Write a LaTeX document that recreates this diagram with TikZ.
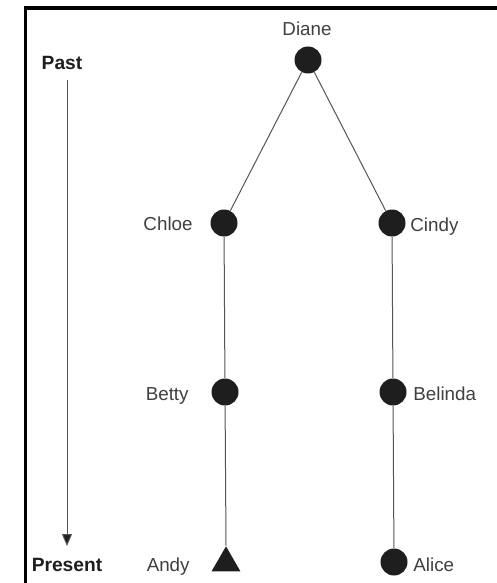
\documentclass[tikz,border=0pt]{standalone}
\usepackage{fontspec}
\setmainfont{Liberation Sans}
\usetikzlibrary{arrows.meta,shapes.geometric}
\definecolor{ink}{HTML}{1E1E1E}
\definecolor{edge}{HTML}{555555}
\begin{document}
\begin{tikzpicture}[x=0.5pt,y=-0.5pt,
  person/.style={circle,fill=ink,inner sep=0pt,minimum size=13.5pt},
  male/.style={isosceles triangle,isosceles triangle apex angle=60,shape border rotate=90,fill=ink,inner sep=0pt,minimum height=12.5pt,minimum width=14pt},
  lbl/.style={font=\fontsize{9.4}{11}\selectfont,text=ink!85,inner sep=0pt},
  era/.style={font=\fontsize{9.6}{11}\selectfont\bfseries,text=ink,inner sep=0pt},
  link/.style={draw=edge,line width=0.5pt}]
\useasboundingbox (0,0) rectangle (497,583);
\fill[white] (0,0) rectangle (497,583);
% frame
\draw[line width=1.8pt,black] (25.5,583) -- (25.5,8) -- (497,8);
% people
\node[person] (diane) at (308,60) {};
\node[person] (chloe) at (224,223) {};
\node[person] (cindy) at (392,223) {};
\node[person] (betty) at (225,392) {};
\node[person] (belinda) at (393,392) {};
\node[male] (andy) at (226,563) {};
\node[person] (alice) at (394,562) {};
% labels
\node[lbl,anchor=base] (ldiane) at (307,36) {Diane};
\node[lbl,anchor=base east] (lchloe) at (193,230) {Chloe};
\node[lbl,anchor=base west] (lcindy) at (410,231) {Cindy};
\node[lbl,anchor=base east] (lbetty) at (189,400) {Betty};
\node[lbl,anchor=base west] (lbelinda) at (413,400) {Belinda};
\node[lbl,anchor=base east] (landy) at (190,571) {Andy};
\node[lbl,anchor=base west] (lalice) at (413,571) {Alice};
% time axis
\node[era,anchor=base] (past) at (62,70) {Past};
\node[era,anchor=base] (present) at (67,571) {Present};
\coordinate (ta) at (67,80);
\coordinate (tb) at (67,546);
\draw[draw=edge,line width=0.5pt,-{Triangle[length=6pt,width=5pt,fill=ink]}] (ta) -- (tb);
% lines
\draw[link] (diane) -- (chloe);
\draw[link] (diane) -- (cindy);
\draw[link] (chloe) -- (betty);
\draw[link] (cindy) -- (belinda);
\draw[link] (betty) -- (andy.apex);
\draw[link] (belinda) -- (alice);
\end{tikzpicture}
\end{document}
